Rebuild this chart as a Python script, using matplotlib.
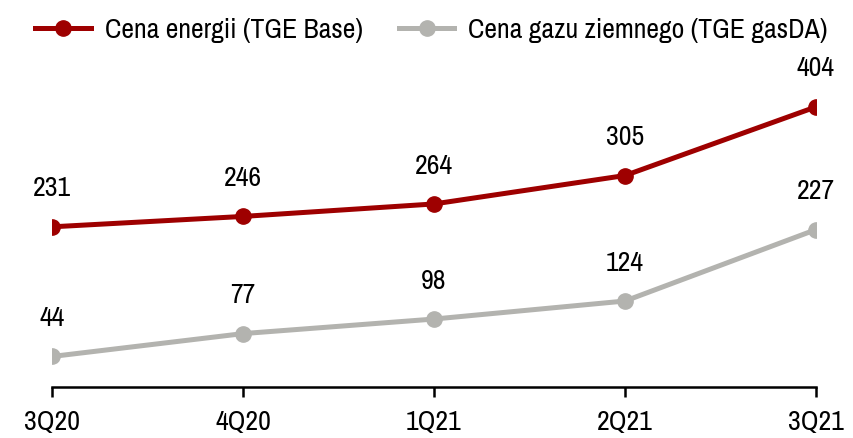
import matplotlib.pyplot as plt
from matplotlib import font_manager

quarters = ["3Q20", "4Q20", "1Q21", "2Q21", "3Q21"]
energy = [231, 246, 264, 305, 404]
gas = [44, 77, 98, 124, 227]

names = {f.name for f in font_manager.fontManager.ttflist}
font = "Liberation Sans"
for cand in ["Liberation Sans Narrow", "Arial Narrow", "Archivo Narrow",
             "PT Sans Narrow", "Roboto Condensed", "Open Sans Condensed"]:
    if cand in names:
        font = cand
        break
plt.rcParams["font.family"] = [font, "DejaVu Sans"]

RED = "#9E0000"
GREY = "#B3B3AF"
FS = 20

fig = plt.figure(figsize=(8.54, 4.39), dpi=100)
ax = fig.add_axes([0.0609, 0.1162, 0.8946, 0.7107])

x = range(len(quarters))
ax.plot(x, energy, color=RED, lw=3.6, marker="o", ms=11, label="Cena energii (TGE Base)")
ax.plot(x, gas, color=GREY, lw=3.6, marker="o", ms=11, label="Cena gazu ziemnego (TGE gasDA)")

for series in (energy, gas):
    for xi, v in zip(x, series):
        ax.annotate(str(v), (xi, v), xytext=(0, 28), textcoords="offset points",
                    ha="center", va="center", fontsize=FS)

ax.set_xlim(0, 4)
ax.set_ylim(0, 450)
ax.set_xticks(list(x))
ax.set_xticklabels(quarters, fontsize=FS)
ax.set_yticks([])
for side in ["top", "right", "left"]:
    ax.spines[side].set_visible(False)
ax.spines["bottom"].set_linewidth(1.8)
ax.tick_params(axis="x", length=7, width=1.8, pad=9)

fig.legend(loc="upper left", bbox_to_anchor=(0.012, 1.015), ncol=2, frameon=False,
           fontsize=FS, handlelength=2.0, columnspacing=1.3, handletextpad=0.5)

fig.savefig("out.png", dpi=100)
